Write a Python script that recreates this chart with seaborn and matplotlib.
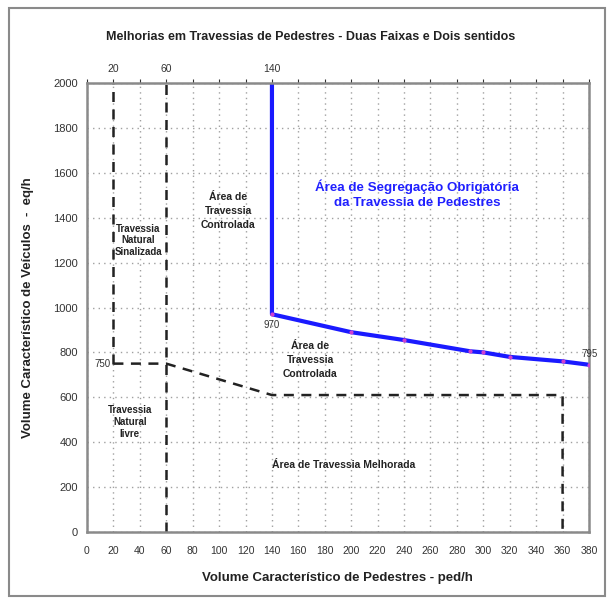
import matplotlib
matplotlib.use("Agg")
import matplotlib.pyplot as plt
import seaborn as sns
import pandas as pd
from matplotlib.patches import Rectangle

# ---- data ----
blue_x = [140, 140, 200, 240, 290, 300, 320, 360, 380]
blue_y = [2000, 970, 890, 855, 805, 800, 780, 760, 745]

dash1_x = [20, 20]
dash1_y = [750, 2000]
dash2_x = [60, 60]
dash2_y = [0, 2000]
dash3_x = [20, 60, 140, 360, 360]
dash3_y = [750, 750, 610, 610, 0]

x_ticks = list(range(0, 381, 20))
y_ticks = list(range(0, 2001, 200))
top_labels = [20, 60, 140]

title = "Melhorias em Travessias de Pedestres - Duas Faixas e Dois sentidos"
xlabel = "Volume Característico de Pedestres - ped/h"
ylabel = "Volume Característico de Veículos  -  eq/h"

sns.set_style("white")
plt.rcParams['font.family'] = ['Liberation Sans', 'DejaVu Sans']

fig = plt.figure(figsize=(6.1, 5.98), dpi=100)
ax = fig.add_axes([87/610, 66/598, 502/610, 449/598])

# figure border
fig.patches.append(Rectangle((9/610, 2/598), 596/610, 588/598, transform=fig.transFigure,
                             fill=False, edgecolor='#8a8a8a', linewidth=1.5))

blue_df = pd.DataFrame({"x": blue_x, "y": blue_y})
sns.lineplot(data=blue_df, x="x", y="y", ax=ax, color='#1a1aff', linewidth=3,
             sort=False, estimator=None)
ax.scatter(blue_x[1:], blue_y[1:], s=4, color='#d040d0', zorder=5)

for xs, ys in [(dash1_x, dash1_y), (dash2_x, dash2_y), (dash3_x, dash3_y)]:
    d = pd.DataFrame({"x": xs, "y": ys})
    sns.lineplot(data=d, x="x", y="y", ax=ax, color='#222222', linewidth=1.8,
                 linestyle=(0, (4, 3)), sort=False, estimator=None)

ax.set_xlim(0, 380)
ax.set_ylim(0, 2000)
ax.set_xticks(x_ticks)
ax.set_yticks(y_ticks)
ax.grid(True, linestyle=(0, (1, 3)), color='#a0a0a0', linewidth=1)
ax.tick_params(axis='x', labelsize=7.5, colors='#333333', length=3, direction='out',
               width=0.8, pad=7)
ax.tick_params(axis='y', labelsize=8, colors='#333333', length=3, direction='out',
               width=0.8)
ax.tick_params(top=True, which='both')
for s in ax.spines.values():
    s.set_color('#8a8a8a')
    s.set_linewidth(1.8)
    s.set_visible(True)

for v in top_labels:
    ax.text(v, 2040, str(v), ha='center', va='bottom', fontsize=7.5, color='#333333')

fig.text(311/610, 1 - 37/598, title, fontsize=9, fontweight='bold', ha='center',
         va='center', color='#222222')
ax.set_xlabel(xlabel, fontsize=9.5, fontweight='bold', color='#222222')
ax.xaxis.set_label_coords((337 - 87) / 502, -(572 - 532) / 449)
ax.set_ylabel(ylabel, fontsize=9.5, fontweight='bold', color='#222222')
ax.yaxis.set_label_coords(-(87 - 34) / 502, 0.5)

ann = dict(fontsize=7.5, fontweight='bold', ha='center', va='center', color='#222222',
           linespacing=1.45)
ax.text(107, 1430, "Área de\nTravessia\nControlada", **ann)
ax.text(39, 1300, "Travessia\nNatural\nSinalizada", fontsize=7, fontweight='bold',
        ha='center', va='center', color='#222222', linespacing=1.2)
ax.text(169, 766, "Área de\nTravessia\nControlada", **ann)
ax.text(32.5, 490, "Travessia\nNatural\nlivre", fontsize=7, fontweight='bold',
        ha='center', va='center', color='#222222', linespacing=1.2)
ax.text(194, 298, "Área de Travessia Melhorada", **ann)
ax.text(250, 1505, "Área de Segregação Obrigatória\nda Travessia de Pedestres",
        fontsize=9.6, fontweight='bold', ha='center', va='center', color='#2020ff',
        linespacing=1.3)

lab = dict(fontsize=7, color='#333333')
ax.text(140, 945, "970", ha='center', va='top', **lab)
ax.text(18, 750, "750", ha='right', va='center', **lab)
ax.text(374, 770, "795", ha='left', va='bottom', **lab)

fig.savefig("out.png", dpi=100)
